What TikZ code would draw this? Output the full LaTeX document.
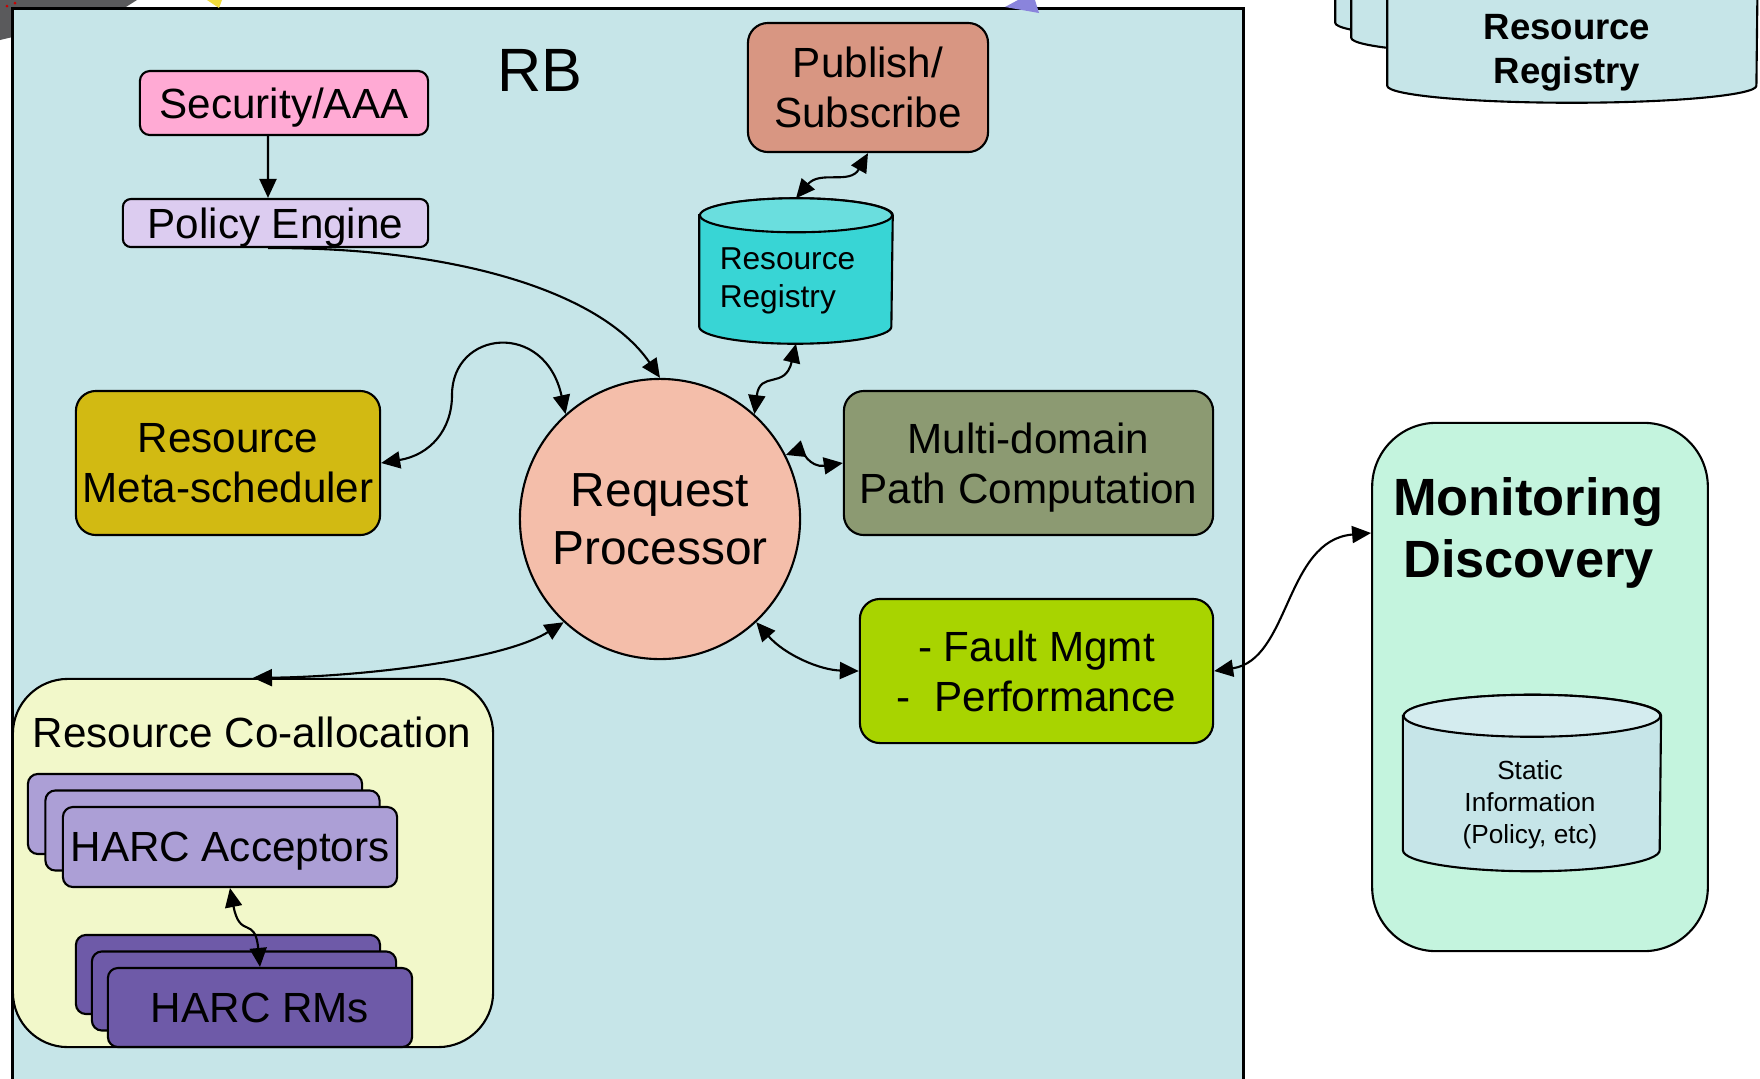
\documentclass[tikz,border=0pt]{standalone}
\usepackage{fontspec}
\setmainfont{Liberation Sans}
\usepackage{tikz}
\usetikzlibrary{arrows.meta}
\usetikzlibrary{shapes,shadows}
\usetikzlibrary{positioning}

\definecolor{rbblue}{HTML}{C6E5E8}
\definecolor{secpink}{HTML}{FFAAD4}
\definecolor{polilac}{HTML}{DCCCF0}
\definecolor{pubsalmon}{HTML}{D89682}
\definecolor{regcyan}{HTML}{38D5D5}
\definecolor{regcyantop}{HTML}{6ADEDE}
\definecolor{reqpeach}{HTML}{F4BEAA}
\definecolor{metagold}{HTML}{D2BA12}
\definecolor{patholive}{HTML}{8C9A72}
\definecolor{faultlime}{HTML}{A8D400}
\definecolor{monmint}{HTML}{C4F4DE}
\definecolor{infotop}{HTML}{D4ECEF}
\definecolor{coalyellow}{HTML}{F2F8CA}
\definecolor{acclilac}{HTML}{AC9FD6}
\definecolor{rmpurple}{HTML}{6E5AA8}
\definecolor{slidegrey}{HTML}{5A5A5C}
\definecolor{markyellow}{HTML}{F2DC3C}
\definecolor{markblue}{HTML}{8A84DC}

\newcommand{\szrb}{\fontsize{17.4}{20}\selectfont}
\newcommand{\szbox}{\fontsize{12}{14.3}\selectfont}
\newcommand{\szreq}{\fontsize{13.6}{16.5}\selectfont}
\newcommand{\szmon}{\fontsize{14.9}{17.8}\selectfont\bfseries}
\newcommand{\szreg}{\fontsize{10.4}{12.5}\selectfont\bfseries}
\newcommand{\szdb}{\fontsize{9}{10.8}\selectfont}
\newcommand{\szinfo}{\fontsize{7.45}{9.1}\selectfont}

% drum: node name, half width, end radius, body colour, end colour
\newcommand{\drawdrum}[5]{%
  \draw[line width=0.6pt,fill=#4] ([yshift=-#3]#1.north west) -- ([yshift=#3]#1.south west)
    arc[start angle=180,end angle=360,x radius=#2,y radius=#3] -- ([yshift=-#3]#1.north east)
    arc[start angle=0,end angle=180,x radius=#2,y radius=#3] -- cycle;
  \draw[line width=0.6pt,fill=#5] ([yshift=-#3]#1.north) ellipse[x radius=#2,y radius=#3];
}

\tikzstyle{block}=[draw,line width=0.6pt,rounded corners=0.2cm,align=center,inner sep=0pt,text depth=0pt,font=\szbox]
\tikzstyle{store}=[inner sep=0pt]
\tikzstyle{link}=[line width=0.6pt,{Triangle[length=0.19cm,width=0.17cm]}-{Triangle[length=0.19cm,width=0.17cm]}]
\tikzstyle{flow}=[line width=0.6pt,-{Triangle[length=0.19cm,width=0.17cm]}]

\begin{document}
\begin{tikzpicture}[x=0.01cm,y=-0.01cm]
\useasboundingbox (0,0) rectangle (1760,1078);
\clip (0,0) rectangle (1760,1078);

% bits of the slide cut off at the top
\fill[slidegrey] (0,0) -- (137,0) -- (118,12) -- (0,40) -- cycle;
\fill[red!80!black] (7,6) circle (0.015cm) (15,3) circle (0.015cm);

% the RB box
\node[draw,fill=rbblue,line width=0.9pt,anchor=north west,minimum width=12.30cm,minimum height=12cm,inner sep=0pt] (rb) at (11,7) {};
\fill[markyellow] (207,0) -- (222,0) -- (219,8) -- cycle;
\fill[markblue] (1005,7) -- (1018,0) -- (1035,0) -- (1039,13) -- cycle;
\node (rbtitle) at (539.5,70) {\szrb RB};

\node[block,fill=secpink,rounded corners=0.1cm,minimum width=2.88cm,minimum height=0.64cm] (sec) at (284,103) {Security/AAA};
\node[block,fill=polilac,rounded corners=0.08cm,minimum width=3.05cm,minimum height=0.48cm] (pol) at (275.5,223) {Policy Engine};
\node[block,fill=pubsalmon,minimum width=2.40cm,minimum height=1.29cm] (pub) at (868,87.5) {Publish/\\Subscribe};
\node[store,minimum width=1.92cm,minimum height=1.44cm] (rr) at (796,271) {};
\drawdrum{rr}{0.96cm}{0.17cm}{regcyan}{regcyantop}
\node[font=\szdb,align=left] (rrtext) at (787.5,281) {Resource\\Registry};

\node[circle,draw,line width=0.6pt,fill=reqpeach,minimum size=2.8cm,inner sep=0pt,align=center,font=\szreq] (rp) at (660,519) {Request\\Processor};

\node[block,fill=metagold,minimum width=3.04cm,minimum height=1.44cm] (meta) at (228,463) {Resource\\Meta-scheduler};
\node[block,fill=patholive,minimum width=3.69cm,minimum height=1.44cm] (mdpc) at (1028.5,463) {Multi-domain\\Path Computation};
\node[block,fill=faultlime,minimum width=3.53cm,minimum height=1.44cm] (fault) at (1036.5,671) {- Fault Mgmt\\-\ \ Performance};

% co-allocation
\node[block,fill=coalyellow,rounded corners=0.55cm,minimum width=4.80cm,minimum height=3.68cm] (coal) at (253,863) {};
\node[font=\szbox] (coaltitle) at (252,732) {Resource Co-allocation};
\node[block,fill=acclilac,rounded corners=0.1cm,minimum width=3.34cm,minimum height=0.80cm,
  double copy shadow={shadow xshift=-0.175cm,shadow yshift=0.165cm}] (acc) at (230,847) {HARC Acceptors};
\node[block,fill=rmpurple,rounded corners=0.1cm,minimum width=3.04cm,minimum height=0.79cm,
  double copy shadow={shadow xshift=-0.16cm,shadow yshift=0.165cm}] (rms) at (260,1007.5) {HARC RMs};

% monitoring and discovery
\node[block,fill=monmint,rounded corners=0.64cm,minimum width=3.355cm,minimum height=5.28cm] (mon) at (1540,687) {};
\node[font=\szmon,align=center] (montitle) at (1528.5,533) {Monitoring\\Discovery};
\node[store,minimum width=2.566cm,minimum height=1.75cm] (sinfo) at (1532,783) {};
\drawdrum{sinfo}{1.283cm}{0.21cm}{rbblue}{infotop}
\node[font=\szinfo,align=center] (sinfotext) at (1530,805) {Static\\Information\\(Policy, etc)};

% registry stack, top right
\node[store,minimum width=3.69cm,minimum height=1.6cm] (rrback) at (1520.5,-41) {};
\drawdrum{rrback}{1.845cm}{0.17cm}{rbblue}{rbblue}
\node[store,minimum width=3.69cm,minimum height=1.6cm] (rrmid) at (1536.5,-26) {};
\drawdrum{rrmid}{1.845cm}{0.17cm}{rbblue}{rbblue}
\node[store,minimum width=3.69cm,minimum height=1.6cm] (rrfront) at (1572.5,22) {};
\drawdrum{rrfront}{1.845cm}{0.17cm}{rbblue}{rbblue}
\node[font=\szreg,align=center] (rrfronttext) at (1567,53) {Resource\\Registry};

% connectors
\draw[flow] ([xshift=-0.16cm]sec.south) -- ([xshift=-0.075cm]pol.north);
\draw[flow] ([xshift=-0.075cm]pol.south) .. controls (450,247) and (600,290) .. (rp.north);
\draw[link] (rr.north) .. controls (820,170) and (850,185) .. (pub.south);
\draw[link] (rr.south) .. controls (785,390) and (760,370) .. (rp.48);
\draw[link] (meta.east) .. controls (430,455) and (452,430) .. (452,395) .. controls (452,330) and (545,320) .. (rp.132);
\draw[link] (rp.27) .. controls (800,450) and (810,468) .. (mdpc.west);
\draw[link] (rp.-47) .. controls (785,655) and (820,670) .. (fault.west);
\draw[link] (fault.east) .. controls (1290,660) and (1285,540) .. (mon.west |- montitle);
\draw[link] (rp.227) .. controls (500,662) and (350,677) .. (coal.north);
\draw[link] (acc.south) .. controls (240,940) and (255,915) .. (rms.north);
\end{tikzpicture}
\end{document}
